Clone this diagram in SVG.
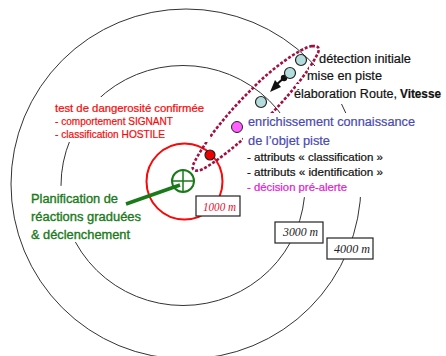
<svg xmlns="http://www.w3.org/2000/svg" width="446" height="356" viewBox="0 0 446 356">
<style>
text{font-family:"Liberation Sans",Arial,sans-serif;font-size:10.5px;stroke-width:.2}
.ring{fill:none;stroke:#333;stroke-width:1}
.mask{fill:#fff}
.blip{fill:#b5dcdc;stroke:#222;stroke-width:1.2}
.box{fill:#fff;stroke:#222;stroke-width:1.2}
.dist{font-family:"Liberation Serif",serif;font-style:italic;font-size:12px;fill:#222}
.big{font-size:12.5px}
.red{fill:#f80808;stroke:#f80808}.green{fill:#1a7a1a;stroke:#1a7a1a;stroke-width:.35}.blue{fill:#4a4ab0;stroke:#4a4ab0}.blk{fill:#111;stroke:#111}.mag{fill:#e020d0;stroke:#e020d0}
</style>
<g id="rings">
<circle class="ring" cx="186" cy="184" r="175"/>
<ellipse class="ring" cx="183" cy="185.500" rx="122" ry="120"/>
</g>
<g id="zone-1000"><circle cx="184.500" cy="181.500" r="38" fill="none" stroke="#f80808" stroke-width="2"/></g>
<g id="connectors">
<path d="M312 46C300 48 270 70 253 88C230 110 205 140 193 165C191 171 197 172 203 169C220 160 250 134 273 112C290 94 310 70 318 53C320 47 318 46 312 46Z" fill="none" stroke="#a01040" stroke-width="2.600" stroke-dasharray="3 1.800"/>
</g>
<rect class="mask" x="50" y="97" width="160" height="45"/>
<rect class="mask" x="28" y="186" width="117" height="56"/>
<rect class="mask" x="321" y="45" width="120" height="21"/>
<rect class="mask" x="309" y="66" width="130" height="18"/>
<rect class="mask" x="296" y="84" width="148" height="20"/>
<rect class="mask" x="243" y="113" width="174" height="84"/>
<g id="arrows">
<line x1="126" y1="204" x2="180" y2="185" stroke="#1a7a1a" stroke-width="3.500"/>
<circle cx="284" cy="78" r="3.200" fill="#111"/>
<path d="M285 77L276 85" stroke="#111" stroke-width="2.200"/>
<path d="M270 92L281 87L275 80Z" fill="#111"/>
</g>
<g id="centre"><circle cx="183" cy="181" r="11" fill="none" stroke="#1a7a1a" stroke-width="2"/><path d="M172 181H194M183 170V192" stroke="#1a7a1a" stroke-width="1.500"/></g>
<g id="blip-1"><circle class="blip" cx="301" cy="60" r="5.500"/></g>
<g id="blip-2"><circle class="blip" cx="290" cy="73" r="5.500"/></g>
<g id="blip-3"><circle class="blip" cx="261" cy="102" r="5.500"/></g>
<g id="blip-4"><circle cx="237" cy="127" r="5.500" fill="#ff60ff" stroke="#222"/></g>
<g id="blip-5"><circle cx="210" cy="155" r="5" fill="#f00000" stroke="#222" stroke-width="1.200"/></g>
<g id="label-detection">
<text class="big blk" x="319" y="63" textLength="92" lengthAdjust="spacingAndGlyphs">détection initiale</text>
<text class="big blk" x="307" y="80" textLength="75" lengthAdjust="spacingAndGlyphs">mise en piste</text>
<text class="big blk" x="294" y="98" textLength="103" lengthAdjust="spacingAndGlyphs">élaboration Route,</text>
<text class="big blk" x="400" y="98" font-weight="bold" textLength="41" lengthAdjust="spacingAndGlyphs">Vitesse</text>
</g>
<g id="label-enrichissement">
<text class="big blue" x="248" y="126" textLength="167" lengthAdjust="spacingAndGlyphs">enrichissement connaissance</text>
<text class="big blue" x="248" y="145" textLength="82" lengthAdjust="spacingAndGlyphs">de l’objet piste</text>
<text class="blk" x="247" y="161" textLength="136" lengthAdjust="spacingAndGlyphs">- attributs « classification »</text>
<text class="blk" x="247" y="176" textLength="136" lengthAdjust="spacingAndGlyphs">- attributs « identification »</text>
<text class="mag" x="247" y="191" textLength="100" lengthAdjust="spacingAndGlyphs">- décision pré-alerte</text>
</g>
<g id="label-test">
<text class="red" x="55" y="112" textLength="149" lengthAdjust="spacingAndGlyphs">test de dangerosité confirmée</text>
<text class="red" x="55" y="125" textLength="118" lengthAdjust="spacingAndGlyphs">- comportement SIGNANT</text>
<text class="red" x="55" y="138" textLength="110" lengthAdjust="spacingAndGlyphs">- classification HOSTILE</text>
</g>
<g id="label-planification">
<text class="big green" x="31" y="203" textLength="87" lengthAdjust="spacingAndGlyphs">Planification de</text>
<text class="big green" x="31" y="221" textLength="110" lengthAdjust="spacingAndGlyphs">réactions graduées</text>
<text class="big green" x="31" y="239" textLength="99" lengthAdjust="spacingAndGlyphs">&amp; déclenchement</text>
</g>
<g id="box-1000"><rect class="box" x="196" y="196" width="44" height="20"/><text class="dist" x="203" y="211" style="fill:#e01030" textLength="33" lengthAdjust="spacingAndGlyphs">1000 m</text></g>
<g id="box-3000"><rect class="box" x="275" y="222" width="48" height="21"/><text class="dist" x="283" y="236" textLength="35" lengthAdjust="spacingAndGlyphs">3000 m</text></g>
<g id="box-4000"><rect class="box" x="327" y="238" width="46" height="21"/><text class="dist" x="334" y="253" textLength="36" lengthAdjust="spacingAndGlyphs">4000 m</text></g>
</svg>
